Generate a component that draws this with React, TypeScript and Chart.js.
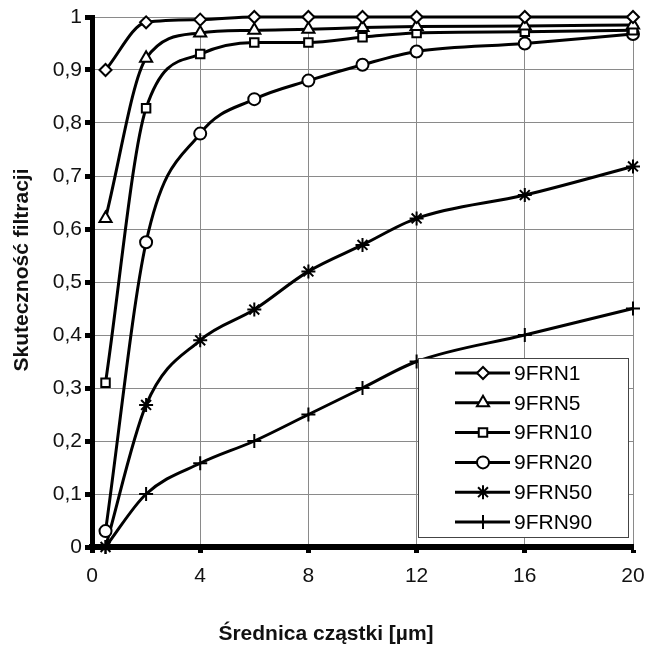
import React, { useEffect, useRef } from "react";
import { Chart, registerables } from "chart.js";
import { drawPoint } from "chart.js/helpers";

Chart.register(...registerables);

const xValues = [0.5, 2, 4, 6, 8, 10, 12, 16, 20];
const seriesNames = ["9FRN1", "9FRN5", "9FRN10", "9FRN20", "9FRN50", "9FRN90"];
const frn1 = [0.9, 0.99, 0.995, 1.0, 1.0, 1.0, 1.0, 1.0, 1.0];
const frn5 = [0.62, 0.922, 0.97, 0.975, 0.977, 0.98, 0.982, 0.983, 0.985];
const frn10 = [0.31, 0.828, 0.93, 0.952, 0.952, 0.962, 0.97, 0.972, 0.975];
const frn20 = [0.03, 0.575, 0.78, 0.845, 0.88, 0.91, 0.935, 0.95, 0.968];
const frn50 = [0.0, 0.268, 0.39, 0.448, 0.52, 0.57, 0.62, 0.664, 0.718];
const frn90 = [0.0, 0.1, 0.158, 0.2, 0.25, 0.3, 0.35, 0.4, 0.45];
const seriesValues = [frn1, frn5, frn10, frn20, frn50, frn90];
const pointStyles = ["rectRot", "triangle", "rect", "circle", "star", "cross"];
const pointRadii = [6, 7, 6, 6, 7, 7];

const xTitle = "Średnica cząstki [µm]";
const yTitle = "Skuteczność filtracji";

const FONT = "'Liberation Sans', Arial, Helvetica, sans-serif";

const axisTitles = {
  id: "axisTitles",
  afterDraw(chart: any) {
    const ctx = chart.ctx;
    ctx.save();
    ctx.fillStyle = "#111";
    ctx.font = `bold 21px ${FONT}`;
    ctx.textAlign = "center";
    ctx.textBaseline = "middle";
    ctx.fillText(xTitle, 326, 634);
    ctx.translate(22, 270);
    ctx.rotate(-Math.PI / 2);
    ctx.fillText(yTitle, 0, 0);
    ctx.restore();
  },
};

const boxLegend = {
  id: "boxLegend",
  afterDraw(chart: any) {
    const ctx = chart.ctx;
    const bx = 418, by = 358, bw = 210, bh = 179;
    ctx.save();
    ctx.fillStyle = "#ffffff";
    ctx.fillRect(bx, by, bw, bh);
    ctx.strokeStyle = "#444";
    ctx.lineWidth = 1;
    ctx.strokeRect(bx + 0.5, by + 0.5, bw, bh);
    const rowH = 29.8;
    chart.data.datasets.forEach((ds: any, i: number) => {
      const cy = by + 15 + i * rowH;
      ctx.strokeStyle = "#000";
      ctx.lineWidth = 3;
      ctx.beginPath();
      ctx.moveTo(455, cy);
      ctx.lineTo(510, cy);
      ctx.stroke();
      ctx.fillStyle = "#fff";
      ctx.strokeStyle = "#000";
      ctx.lineWidth = 2;
      drawPoint(ctx, { pointStyle: ds.pointStyle, radius: ds.pointRadius, rotation: 0, borderWidth: 2 } as any, 483, cy);
      ctx.fillStyle = "#000";
      ctx.font = `21px ${FONT}`;
      ctx.textBaseline = "middle";
      ctx.textAlign = "left";
      ctx.fillText(ds.label, 514, cy + 1);
    });
    ctx.restore();
  },
};

export default function App() {
  const ref = useRef<HTMLCanvasElement>(null);
  useEffect(() => {
    if (!ref.current) return;
    const datasets = seriesNames.map((name, i) => ({
      label: name,
      data: xValues.map((x, j) => ({ x, y: seriesValues[i][j] })),
      borderColor: "#000",
      borderWidth: 3,
      backgroundColor: "#fff",
      pointStyle: pointStyles[i],
      pointRadius: pointRadii[i],
      pointBorderWidth: 2,
      pointBorderColor: "#000",
      pointBackgroundColor: "#fff",
      cubicInterpolationMode: "monotone" as const,
      clip: false as any,
      fill: false,
    }));
    const chart = new Chart(ref.current, {
      type: "line",
      data: { datasets },
      plugins: [axisTitles, boxLegend],
      options: {
        animation: false,
        responsive: false,
        layout: { padding: { left: 0, right: 0, top: 17, bottom: 0 } },
        plugins: { legend: { display: false }, tooltip: { enabled: false } },
        scales: {
          x: {
            type: "linear",
            min: 0,
            max: 20,
            afterFit: (s: any) => { s.height = 101; s.paddingRight = 12; s.paddingLeft = 0; },
            ticks: { stepSize: 4, color: "#111", font: { family: FONT, size: 21 }, padding: 11, maxRotation: 0 },
            grid: { color: "#8a8a8a", lineWidth: 1, tickColor: "#000", tickWidth: 5, tickLength: 6 },
            border: { color: "#000", width: 6 },
            title: { display: false },
          },
          y: {
            type: "linear",
            min: 0,
            max: 1,
            afterFit: (s: any) => { s.width = 92; },
            ticks: {
              stepSize: 0.1,
              color: "#111",
              font: { family: FONT, size: 21 },
              padding: 3,
              callback: (v: any) => String(Math.round(Number(v) * 10) / 10).replace(".", ","),
            },
            grid: { color: "#8a8a8a", lineWidth: 1, tickColor: "#000", tickWidth: 5, tickLength: 7 },
            border: { color: "#000", width: 5 },
            title: { display: false },
          },
        },
      },
    });
    return () => chart.destroy();
  }, []);
  return (
    <div style={{ position: "fixed", left: 0, top: 0, width: 645, height: 648, background: "#fff" }}>
      <canvas ref={ref} width={645} height={648} style={{ display: "block", width: 645, height: 648 }} />
    </div>
  );
}
